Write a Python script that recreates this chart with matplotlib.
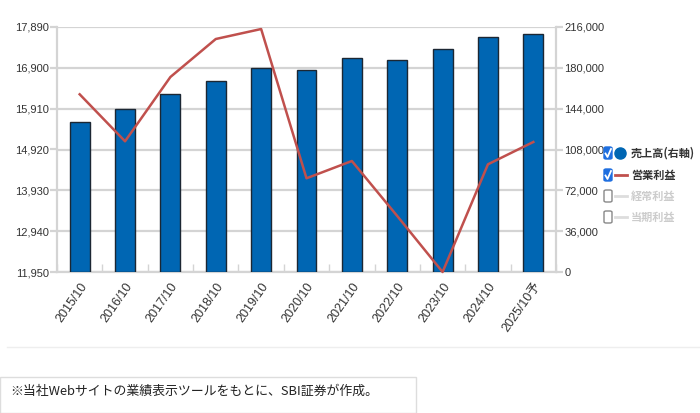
import numpy as np
import matplotlib.pyplot as plt
from matplotlib.patches import Rectangle, FancyBboxPatch
from matplotlib.lines import Line2D

years = ['2015/10', '2016/10', '2017/10', '2018/10', '2019/10', '2020/10',
         '2021/10', '2022/10', '2023/10', '2024/10', '2025/10予']
sales = [132500, 143700, 157200, 168100, 179600, 178400,
         188900, 186900, 196300, 206900, 210100]
op_profit = [16258, 15119, 16678, 17599, 17841, 14222,
             14641, 13308, 11950, 14561, 15102]
left_ticks = [11950, 12940, 13930, 14920, 15910, 16900, 17890]
right_ticks = [0, 36000, 72000, 108000, 144000, 180000, 216000]
legend_labels = ['売上高(右軸)', '営業利益', '経常利益', '当期利益']

W, H = 700, 413
fig = plt.figure(figsize=(7, 4.13), dpi=100)
fig.patch.set_facecolor('white')

tick_font = ['Liberation Sans Narrow', 'Liberation Sans', 'Noto Sans CJK JP', 'DejaVu Sans']
jp_font = ['Noto Sans CJK JP', 'DejaVu Sans']

ax = fig.add_axes([57 / W, 1 - 272 / H, (556 - 57) / W, (272 - 27) / H])
ax2 = ax.twinx()
x = np.arange(len(years))

# bars: sales on right axis
ax.bar(x, sales, width=0.44, color='#0066b3', edgecolor='#1c2733', linewidth=1, zorder=3)
ax.set_ylim(0, 216000)
ax.set_yticks(right_ticks)
ax.set_yticklabels([f'{v:,}' for v in right_ticks], family=tick_font, fontsize=8,
                   color='#333333', fontstretch='condensed')
ax.yaxis.tick_right()
ax.grid(axis='y', color='#d4d4d4', linewidth=1.6, zorder=0)
ax.set_axisbelow(True)
ax.set_xlim(-0.5, len(years) - 0.5)
ax.set_xticks(x)
ax.set_xticklabels(years, rotation=55, ha='right', va='top', rotation_mode='anchor',
                   family=tick_font, fontsize=9, color='#333333')
ax.tick_params(axis='x', length=0, pad=6)
ax.tick_params(axis='y', length=5, color='#d4d4d4', width=1.6, pad=1)
ax.set_xticks(np.arange(len(years) + 1) - 0.5, minor=True)
ax.tick_params(axis='x', which='minor', direction='in', length=6, color='#d4d4d4', width=1)
ax.spines['top'].set_visible(False)
for s in ['left', 'right', 'bottom']:
    ax.spines[s].set_color('#d4d4d4')
    ax.spines[s].set_linewidth(1.6)

# line: operating profit on left axis
ax2.plot(x, op_profit, color='#c0504d', linewidth=1.8, zorder=4, clip_on=False)
ax2.set_ylim(11950, 17890)
ax2.set_yticks(left_ticks)
ax2.set_yticklabels([f'{v:,}' for v in left_ticks], family=tick_font, fontsize=8,
                    color='#333333', fontstretch='condensed')
ax2.yaxis.tick_left()
ax2.tick_params(axis='y', length=5, color='#d4d4d4', width=1.6, pad=1)
for s in ax2.spines.values():
    s.set_visible(False)

# legend
rows_y = [153, 175, 196, 217]
for i, (lab, yy) in enumerate(zip(legend_labels, rows_y)):
    fy = 1 - yy / H
    checked = i < 2
    box = FancyBboxPatch((604 / W, fy - 6 / H), 8 / W, 12 / H,
                         boxstyle='round,pad=0,rounding_size=0.003',
                         transform=fig.transFigure,
                         facecolor='#1f6fe0' if checked else 'white',
                         edgecolor='#1f6fe0' if checked else '#888888', linewidth=1)
    fig.patches.append(box)
    if checked:
        fig.lines.append(Line2D([605.5 / W, 607.5 / W, 611 / W],
                                [fy - 0.5 / H, fy - 4 / H, fy + 4 / H],
                                transform=fig.transFigure, color='white', linewidth=1.3))
    if i == 0:
        fig.lines.append(Line2D([620 / W], [fy], marker='o', markersize=8,
                                color='#0066b3', transform=fig.transFigure))
    else:
        fig.lines.append(Line2D([615 / W, 627 / W], [fy, fy], transform=fig.transFigure,
                                color='#c0504d' if i == 1 else '#dddddd', linewidth=2))
    fig.text(631 / W, fy, lab, family=jp_font, fontsize=8, fontweight='bold',
             color='#333333' if checked else '#cccccc', va='center', ha='left')

# separator line
fig.lines.append(Line2D([7 / W, 1], [1 - 347 / H, 1 - 347 / H], transform=fig.transFigure,
                        color='#eeeeee', linewidth=1))

# footnote box
fig.patches.append(Rectangle((0, 0), 416 / W, 1 - 377 / H, transform=fig.transFigure,
                             facecolor='white', edgecolor='#dddddd', linewidth=1))
fig.text(10 / W, 1 - 391 / H, '※当社Webサイトの業績表示ツールをもとに、SBI証券が作成。',
         family=jp_font, fontsize=9.3, color='#222222', va='center', ha='left')

fig.savefig('out.png', dpi=100)
